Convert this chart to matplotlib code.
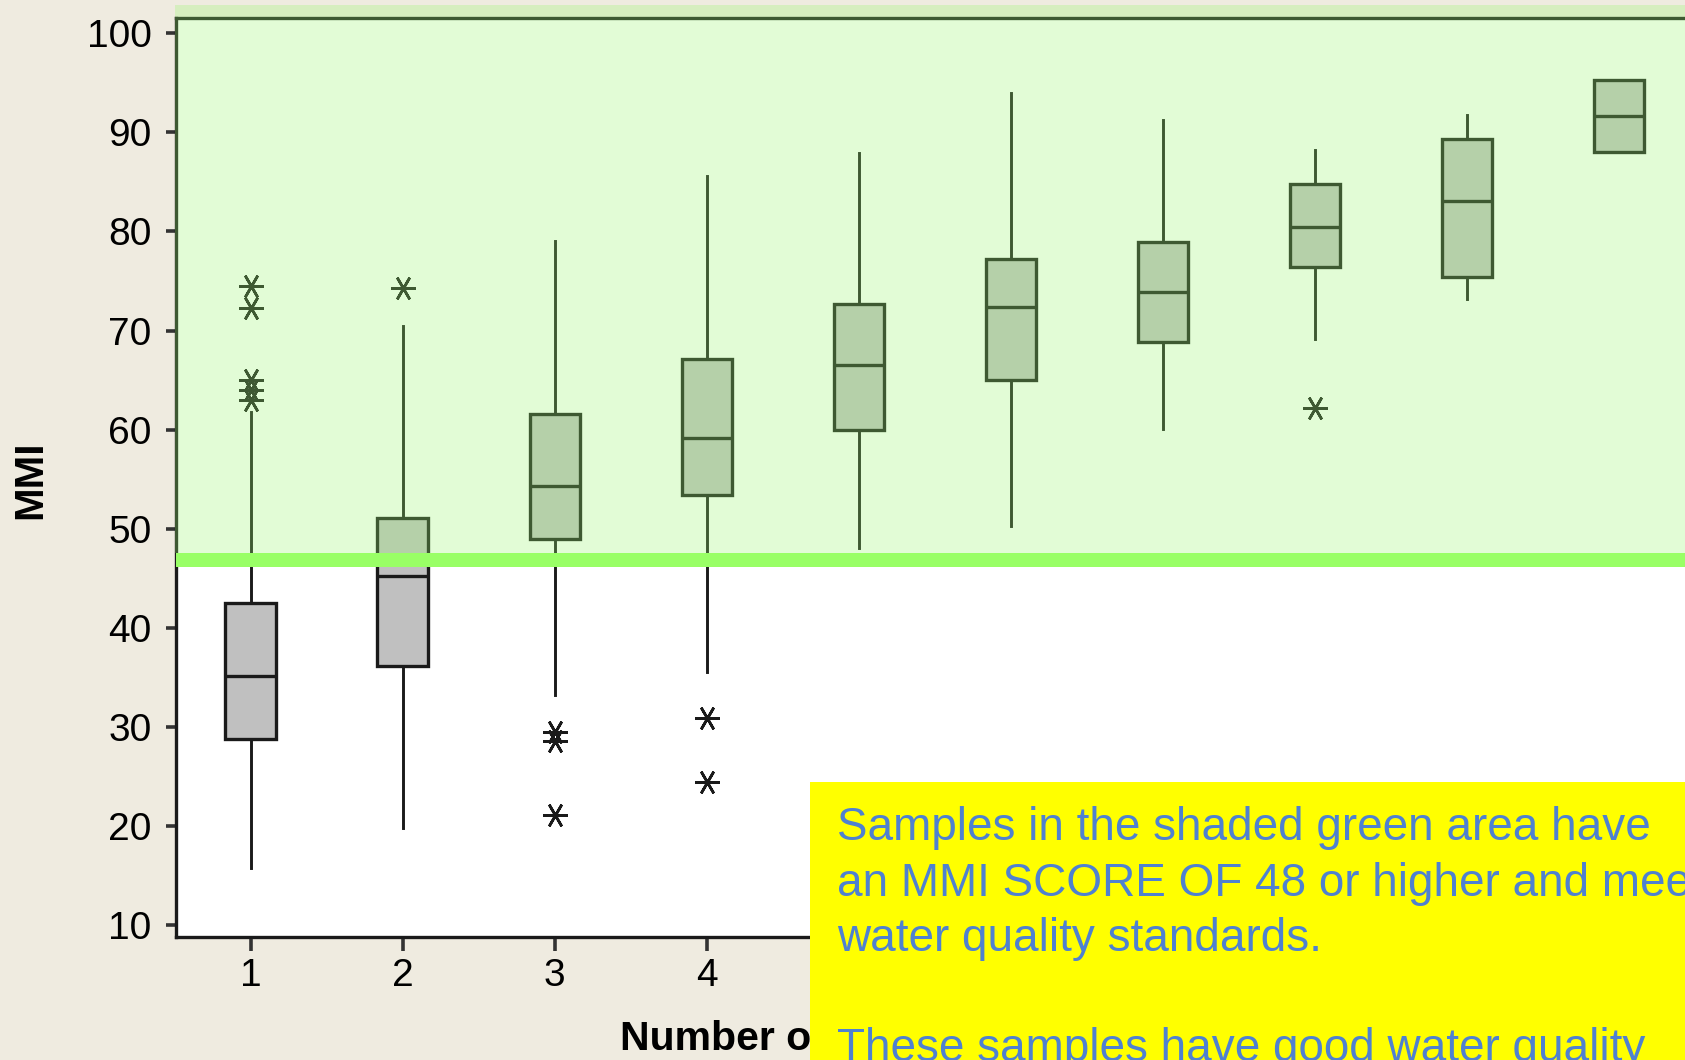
import matplotlib
matplotlib.use('Agg')
import matplotlib.pyplot as plt
from matplotlib.patches import Rectangle
from matplotlib.transforms import blended_transform_factory, Bbox, TransformedBbox

plt.rcParams['font.family'] = ['Liberation Sans', 'DejaVu Sans']

# ---------------- data ----------------
categories = [1, 2, 3, 4, 5, 6, 7, 8, 9, 10]
q1 = [28.8, 36.2, 49.0, 53.4, 60.0, 65.0, 68.8, 76.4, 75.4, 88.0]
median = [35.1, 45.2, 54.3, 59.2, 66.5, 72.4, 73.9, 80.5, 83.1, 91.7]
q3 = [42.5, 51.1, 61.6, 67.1, 72.7, 77.2, 78.9, 84.8, 89.3, 95.3]
whisker_low = [15.8, 19.8, 33.2, 35.5, 48.1, 50.3, 60.1, 69.2, 73.2, 88.0]
whisker_high = [61.8, 70.5, 79.0, 85.6, 87.9, 94.0, 91.2, 88.2, 91.8, 95.3]
outliers = [[74.5, 72.3, 65.0, 64.0, 63.0], [74.3], [29.5, 28.6, 21.1], [30.9, 24.4],
            [], [], [], [62.2], [], []]
ytick_values = [10, 20, 30, 40, 50, 60, 70, 80, 90, 100]
xtick_labels = ['1', '2', '3', '4', '5', '6', '7', '8', '9', '10']
threshold_low = 46.15
threshold_high = 47.56

note_lines = ["Samples in the shaded green area have",
              "an MMI SCORE OF 48 or higher and meet",
              "water quality standards.",
              "",
              "These samples have good water quality"]

# ---------------- figure ----------------
W, H = 1685, 1060
fig = plt.figure(figsize=(W / 100, H / 100), dpi=100, facecolor='#EFEBE0')
ax = fig.add_axes([176 / W, 1 - 937 / H, (1695 - 176) / W, (937 - 18) / H])
ax.set_facecolor('white')

stats = []
for i in range(len(categories)):
    stats.append(dict(q1=q1[i], med=median[i], q3=q3[i], whislo=whisker_low[i],
                      whishi=whisker_high[i], fliers=outliers[i]))

edge = '#1A1A1A'
ax.bxp(stats, positions=categories, widths=0.33, showcaps=False, patch_artist=True,
       boxprops=dict(facecolor='#C0C0C0', edgecolor=edge, linewidth=2.4),
       medianprops=dict(color=edge, linewidth=2.4),
       whiskerprops=dict(color=edge, linewidth=2.1),
       flierprops=dict(marker=(6, 2, 30), markersize=18, markeredgecolor=edge,
                       markerfacecolor=edge, markeredgewidth=1.9, linestyle='none'))

# threshold band
ax.axhspan(threshold_low, threshold_high, color='#99FF66', lw=0, zorder=4)

# translucent green overlay above the threshold
blend = blended_transform_factory(fig.transFigure, ax.transData)
overlay = Rectangle((175 / W, threshold_high), 1 - 175 / W, 102.86 - threshold_high,
                    transform=blend, facecolor=(154 / 255, 248 / 255, 112 / 255),
                    alpha=0.286, lw=0, zorder=3.5, clip_on=False)
ax.add_patch(overlay)

ax.set_xlim(0.51, 10.50)
ax.set_ylim(8.81, 101.54)
ax.set_yticks(ytick_values)
ax.set_xticks(categories)
ax.set_xticklabels(xtick_labels)

for side in ['left', 'bottom', 'top']:
    ax.spines[side].set_linewidth(2.4)
    ax.spines[side].set_color(edge)
ax.spines['right'].set_visible(False)

ax.tick_params(axis='y', length=7.2, width=2.6, pad=10.5, labelsize=28, color='#333333')
ax.tick_params(axis='x', length=10, width=2.6, pad=5, labelsize=28, color='#333333')

# axis labels
fig.text(30.5 / W, 1 - 480 / H, 'MMI', rotation=90, fontsize=29, fontweight='bold',
         ha='center', va='center')
xl = fig.text(620 / W, 1 - 1050 / H, 'Number of', fontsize=29.5, fontweight='bold',
              ha='left', va='baseline', zorder=5)
xl.set_clip_box(TransformedBbox(Bbox([[0, 0], [810 / W, 1]]), fig.transFigure))
xl.set_clip_on(True)

# yellow note box
fig.add_artist(Rectangle((810 / W, 0), 1 - 810 / W, 1 - 781.7 / H, transform=fig.transFigure,
                         facecolor='#FFFF00', lw=0, zorder=10))
baselines = [840, 896, 951, 1006, 1061]
for line, b in zip(note_lines, baselines):
    if line:
        fig.text(836.7 / W, 1 - b / H, line, color='#4F81D0', fontsize=33,
                 ha='left', va='baseline', zorder=11)

fig.savefig('out.png', dpi=100, facecolor=fig.get_facecolor())
